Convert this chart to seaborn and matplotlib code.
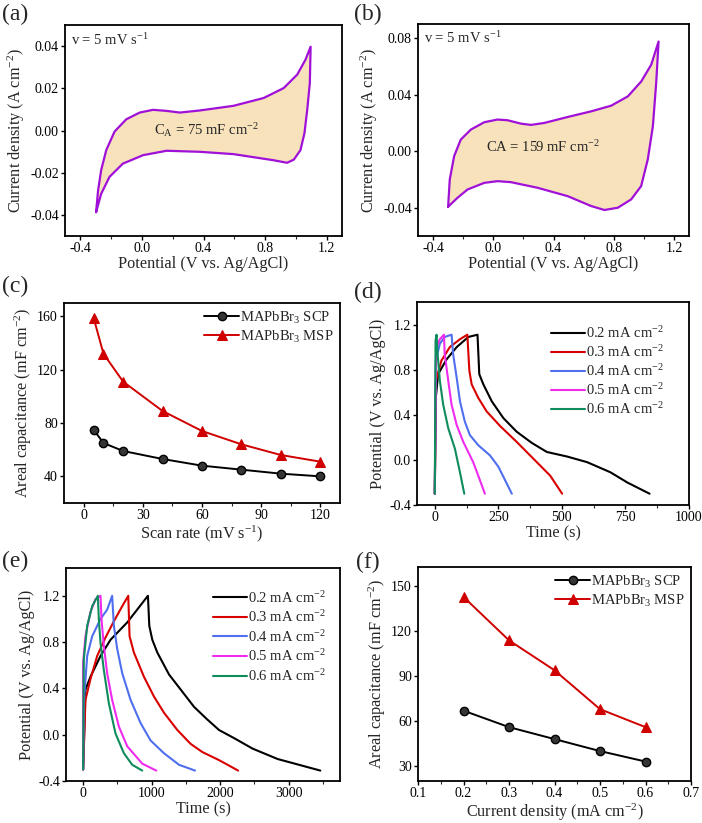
import numpy as np
import matplotlib
matplotlib.use("Agg")
import matplotlib.pyplot as plt
from matplotlib.ticker import AutoMinorLocator, MultipleLocator
import seaborn as sns

sns.set_theme(style="ticks")
plt.rcParams['font.family'] = ['Liberation Serif', 'DejaVu Serif']
plt.rcParams['mathtext.fontset'] = 'custom'
plt.rcParams['mathtext.rm'] = 'Liberation Serif'
plt.rcParams['mathtext.it'] = 'Liberation Serif:italic'
plt.rcParams['axes.unicode_minus'] = False

# ---------------- data ----------------
# (a) CV of SCP, 5 mV/s (loop: anodic then cathodic)
cv_a_V = [-0.298, -0.285, -0.265, -0.232, -0.178, -0.102, -0.015, 0.072, 0.159, 0.247, 0.377,
          0.595, 0.791, 0.921, 1.009, 1.063, 1.096,
          1.091, 1.074, 1.056, 1.030, 0.987, 0.943, 0.856, 0.595, 0.377, 0.160, 0.007,
          -0.124, -0.211, -0.265, -0.298]
cv_a_I = [-0.0387, -0.0284, -0.0188, -0.0093, -0.0005, 0.0053, 0.0085, 0.0098, 0.0093, 0.0085, 0.0095,
          0.0117, 0.0154, 0.0201, 0.0265, 0.0336, 0.0397,
          0.0225, 0.0098, -0.0013, -0.0093, -0.0138, -0.0153, -0.0141, -0.0112, -0.0101, -0.0096, -0.0117,
          -0.0157, -0.0220, -0.0300, -0.0387]
# (b) CV of MSP, 5 mV/s
cv_b_V = [-0.300, -0.289, -0.260, -0.216, -0.149, -0.060, 0.028, 0.095, 0.184, 0.250, 0.339,
          0.494, 0.650, 0.783, 0.894, 0.983, 1.049, 1.098,
          1.082, 1.060, 1.026, 0.982, 0.916, 0.827, 0.738, 0.650, 0.494, 0.295, 0.117,
          0.028, -0.060, -0.171, -0.238, -0.300]
cv_b_I = [-0.0393, -0.0200, -0.0035, 0.0082, 0.0153, 0.0205, 0.0224, 0.0219, 0.0195, 0.0186, 0.0200,
          0.0242, 0.0282, 0.0322, 0.0388, 0.0494, 0.0612, 0.0776,
          0.0482, 0.0176, -0.0059, -0.0247, -0.0341, -0.0400, -0.0416, -0.0388, -0.0318, -0.0259, -0.0219,
          -0.0212, -0.0224, -0.0271, -0.0330, -0.0393]

# (c) areal capacitance vs scan rate
scan_rate = [5, 10, 20, 40, 60, 80, 100, 120]
cap_scp_c = [75, 65, 59, 53, 48, 45, 42, 40]
cap_msp_c = [159, 132, 111, 89, 74, 64, 56, 51]

# (d) GCD curves of SCP
gcd_labels = ['0.2 mA cm$^{-2}$', '0.3 mA cm$^{-2}$', '0.4 mA cm$^{-2}$',
              '0.5 mA cm$^{-2}$', '0.6 mA cm$^{-2}$']
d_t = [
    [0, 4, 13, 46, 86, 132, 168, 175, 191, 224, 270, 322, 382, 441, 520, 599, 691, 757, 845],
    [0, 4, 26, 59, 99, 128, 136, 145, 171, 204, 257, 322, 388, 454, 501],
    [0, 4, 20, 39, 66, 72, 86, 99, 118, 138, 171, 217, 250, 303],
    [0, 4, 7, 20, 36, 39, 53, 66, 86, 112, 151, 171, 197],
    [0, 3, 7, 11, 20, 33, 53, 79, 99, 116],
]
d_V = [
    [-0.30, 0.55, 0.76, 0.89, 1.00, 1.09, 1.11, 0.76, 0.67, 0.52, 0.37, 0.25, 0.15, 0.07, 0.03, -0.02, -0.11, -0.20, -0.30],
    [-0.30, 0.70, 0.88, 1.00, 1.07, 1.11, 0.79, 0.67, 0.55, 0.43, 0.30, 0.16, 0.01, -0.14, -0.30],
    [-0.30, 0.88, 1.03, 1.09, 1.11, 0.94, 0.73, 0.52, 0.34, 0.22, 0.13, 0.04, -0.06, -0.30],
    [-0.30, 0.80, 1.00, 1.07, 1.11, 0.94, 0.70, 0.49, 0.31, 0.16, -0.02, -0.14, -0.30],
    [-0.30, 1.06, 1.11, 0.94, 0.70, 0.49, 0.28, 0.10, -0.11, -0.30],
]
# (e) GCD curves of MSP
e_t = [
    [0, 34, 107, 254, 400, 644, 946, 966, 1010, 1083, 1254, 1424, 1620, 1815, 1985, 2205, 2473, 2839, 3463],
    [0, 34, 107, 205, 327, 449, 571, 659, 678, 741, 888, 1034, 1180, 1376, 1571, 1741, 1985, 2263],
    [0, 10, 59, 132, 254, 351, 424, 449, 498, 571, 693, 839, 985, 1180, 1400, 1634],
    [0, 0, 34, 107, 180, 254, 268, 302, 351, 424, 522, 644, 863, 1068],
    [0, 10, 59, 132, 215, 229, 254, 302, 376, 473, 595, 717, 863],
]
e_V = [
    [-0.30, 0.39, 0.50, 0.68, 0.82, 0.97, 1.20, 0.94, 0.82, 0.71, 0.52, 0.39, 0.24, 0.13, 0.04, -0.03, -0.12, -0.21, -0.31],
    [-0.30, 0.30, 0.48, 0.68, 0.84, 0.98, 1.11, 1.20, 0.85, 0.71, 0.50, 0.33, 0.19, 0.04, -0.08, -0.15, -0.22, -0.31],
    [-0.30, 0.27, 0.68, 0.85, 1.00, 1.08, 1.20, 0.94, 0.74, 0.53, 0.30, 0.10, -0.05, -0.16, -0.26, -0.31],
    [-0.30, 0.62, 0.85, 1.06, 1.17, 1.20, 1.00, 0.77, 0.53, 0.30, 0.07, -0.10, -0.25, -0.31],
    [-0.30, 0.65, 0.94, 1.11, 1.20, 1.00, 0.79, 0.56, 0.27, 0.01, -0.16, -0.26, -0.31],
]

# (f) areal capacitance vs current density
cur_dens = [0.2, 0.3, 0.4, 0.5, 0.6]
cap_scp_f = [67, 56, 48, 40, 33]
cap_msp_f = [143, 114, 94, 68, 56]

# ---------------- styles ----------------
CV_LINE = '#A010D8'
CV_FILL = '#F7E2BC'
GCD_COLORS = ['#000000', '#D90000', '#4F6FEF', '#EE2BEE', '#0E8C5C']
RED = '#D00000'
TICK_FS = 10
LAB_FS = 11.7
LEG_FS = 10.5

W, H = 702, 823
fig = plt.figure(figsize=(W / 100, H / 100), dpi=100)


def make_ax(l, r, t, b):
    ax = fig.add_axes([l / W, (H - b) / H, (r - l) / W, (b - t) / H])
    for s in ax.spines.values():
        s.set_linewidth(1.3)
        s.set_color('black')
    ax.tick_params(which='major', direction='out', length=2.6, width=1.0,
                   labelsize=TICK_FS, colors='black', pad=1.8)
    ax.tick_params(which='minor', direction='out', length=1.8, width=0.8)
    ax.xaxis.set_minor_locator(AutoMinorLocator(2))
    return ax


def labels(ax, xl, yl):
    ax.set_xlabel(xl, fontsize=LAB_FS, labelpad=1)
    ax.set_ylabel(yl, fontsize=LAB_FS, labelpad=2)


def panel_label(x, y, s):
    fig.text(x / W, 1 - y / H, s, fontsize=17, ha='left', va='center')


# (a)
ax = make_ax(65, 342, 25, 236)
ax.fill(cv_a_V, cv_a_I, color=CV_FILL, lw=0)
sns.lineplot(x=cv_a_V, y=cv_a_I, sort=False, estimator=None, color=CV_LINE, lw=1.6, ax=ax)
ax.set_xticks([-0.4, 0.0, 0.4, 0.8, 1.2])
ax.set_xticklabels(['-0.4', '0.0', '0.4', '0.8', '1.2'])
ax.set_yticks([-0.04, -0.02, 0.0, 0.02, 0.04])
ax.set_yticklabels(['-0.04', '-0.02', '0.00', '0.02', '0.04'])
ax.set_xlim(-0.5, 1.3)
ax.set_ylim(-0.05, 0.05)
labels(ax, 'Potential (V vs. Ag/AgCl)', 'Current density (A cm$^{-2}$)')
ax.text(0.022, 0.93, 'v = 5 mV s$^{-1}$', transform=ax.transAxes, fontsize=LEG_FS, va='center')
ax.text(0.08, 0.0, 'C$_\\mathrm{A}$ = 75 mF cm$^{-2}$', fontsize=LEG_FS, va='center')
panel_label(2, 14, '(a)')

# (b)
ax = make_ax(418, 689, 24, 236)
ax.fill(cv_b_V, cv_b_I, color=CV_FILL, lw=0)
sns.lineplot(x=cv_b_V, y=cv_b_I, sort=False, estimator=None, color=CV_LINE, lw=1.6, ax=ax)
ax.set_xticks([-0.4, 0.0, 0.4, 0.8, 1.2])
ax.set_xticklabels(['-0.4', '0.0', '0.4', '0.8', '1.2'])
ax.set_yticks([-0.04, 0.0, 0.04, 0.08])
ax.set_yticklabels(['-0.04', '0.00', '0.04', '0.08'])
ax.set_xlim(-0.5, 1.3)
ax.set_ylim(-0.06, 0.09)
labels(ax, 'Potential (V vs. Ag/AgCl)', 'Current density (A cm$^{-2}$)')
ax.text(0.022, 0.934, 'v = 5 mV s$^{-1}$', transform=ax.transAxes, fontsize=LEG_FS, va='center')
ax.text(-0.05, 0.003, 'CA = 159 mF cm$^{-2}$', fontsize=LEG_FS, va='center')
panel_label(354, 14, '(b)')

# (c)
ax = make_ax(64, 340, 303, 503)
sns.lineplot(x=scan_rate, y=cap_scp_c, color='black', lw=1.4, marker='o', markersize=6,
             markerfacecolor='#353535', markeredgecolor='black', markeredgewidth=1.0,
             label='MAPbBr$_3$ SCP', ax=ax)
sns.lineplot(x=scan_rate, y=cap_msp_c, color=RED, lw=1.4, marker='^', markersize=6.5,
             markerfacecolor=RED, markeredgecolor=RED, label='MAPbBr$_3$ MSP', ax=ax)
ax.set_xticks([0, 30, 60, 90, 120])
ax.set_yticks([40, 80, 120, 160])
ax.set_xlim(-10, 130)
ax.set_ylim(20, 170)
labels(ax, 'Scan rate (mV s$^{-1}$)', 'Areal capacitance (mF cm$^{-2}$)')
ax.legend(loc='upper right', frameon=False, fontsize=LEG_FS, handlelength=2.4,
          labelspacing=0.2, handletextpad=0.05, borderaxespad=0.1, borderpad=0.35)
panel_label(2, 286, '(c)')

# (d)
ax = make_ax(417, 689, 302, 505)
for t, v, c, lab in zip(d_t, d_V, GCD_COLORS, gcd_labels):
    sns.lineplot(x=t, y=v, sort=False, estimator=None, color=c, lw=1.5, label=lab, ax=ax)
ax.set_xticks([0, 250, 500, 750, 1000])
ax.set_yticks([-0.4, 0.0, 0.4, 0.8, 1.2])
ax.set_yticklabels(['-0.4', '0.0', '0.4', '0.8', '1.2'])
ax.set_xlim(-70, 1000)
ax.set_ylim(-0.4, 1.4)
labels(ax, 'Time (s)', 'Potential (V vs. Ag/AgCl)')
ax.legend(loc='upper right', bbox_to_anchor=(0.96, 0.956), frameon=False, fontsize=LEG_FS,
          handlelength=2.3, labelspacing=0.2, handletextpad=0.05, borderaxespad=0.6)
panel_label(354, 292, '(d)')

# (e)
ax = make_ax(66, 340, 568, 781)
for t, v, c, lab in zip(e_t, e_V, GCD_COLORS, gcd_labels):
    sns.lineplot(x=t, y=v, sort=False, estimator=None, color=c, lw=1.5, label=lab, ax=ax)
ax.set_xticks([0, 1000, 2000, 3000])
ax.set_yticks([-0.4, 0.0, 0.4, 0.8, 1.2])
ax.set_yticklabels(['-0.4', '0.0', '0.4', '0.8', '1.2'])
ax.set_xlim(-250, 3750)
ax.set_ylim(-0.4, 1.44)
labels(ax, 'Time (s)', 'Potential (V vs. Ag/AgCl)')
ax.legend(loc='upper right', bbox_to_anchor=(1.0, 0.967), frameon=False, fontsize=LEG_FS,
          handlelength=2.3, labelspacing=0.25, handletextpad=0.05, borderaxespad=0.6)
panel_label(2, 561, '(e)')

# (f)
ax = make_ax(418, 691, 567, 781)
sns.lineplot(x=cur_dens, y=cap_scp_f, color='black', lw=1.4, marker='o', markersize=6,
             markerfacecolor='#353535', markeredgecolor='black', markeredgewidth=1.0,
             label='MAPbBr$_3$ SCP', ax=ax)
sns.lineplot(x=cur_dens, y=cap_msp_f, color=RED, lw=1.4, marker='^', markersize=6.5,
             markerfacecolor=RED, markeredgecolor=RED, label='MAPbBr$_3$ MSP', ax=ax)
ax.set_xticks([0.1, 0.2, 0.3, 0.4, 0.5, 0.6, 0.7])
ax.set_xticklabels(['0.1', '0.2', '0.3', '0.4', '0.5', '0.6', '0.7'])
ax.set_yticks([30, 60, 90, 120, 150])
ax.set_xlim(0.1, 0.7)
ax.set_ylim(20, 163)
labels(ax, 'Current density (mA cm$^{-2}$)', 'Areal capacitance (mF cm$^{-2}$)')
ax.legend(loc='upper right', frameon=False, fontsize=LEG_FS, handlelength=2.4,
          labelspacing=0.2, handletextpad=0.05, borderaxespad=0.1, borderpad=0.35)
panel_label(356, 562, '(f)')

fig.savefig('out.png', dpi=100, facecolor='white')
